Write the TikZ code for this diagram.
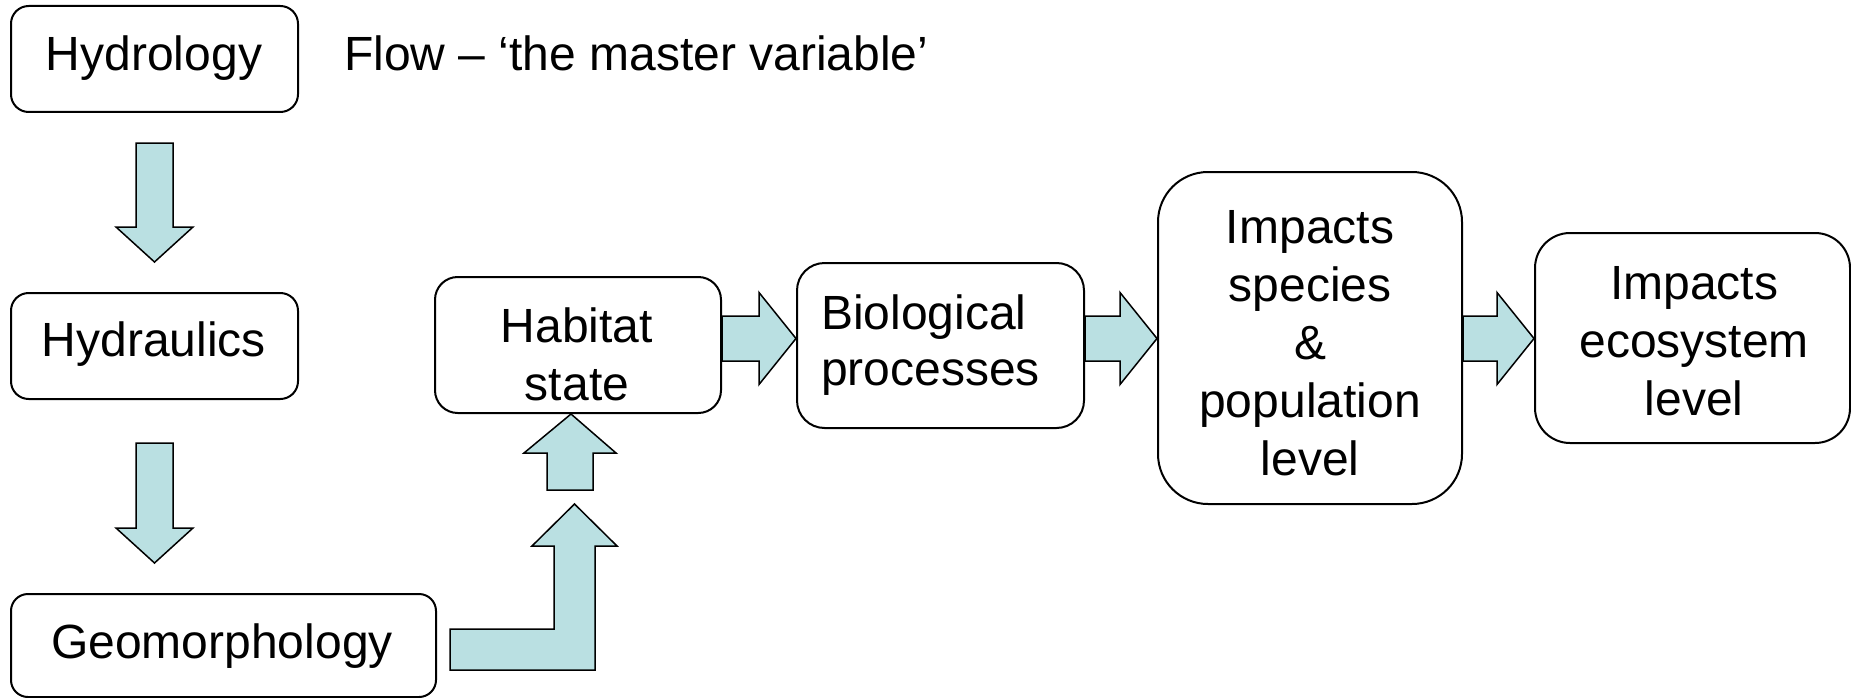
\documentclass[tikz,border=0pt]{standalone}
\usepackage{fontspec}
\setmainfont{Liberation Sans}
\usetikzlibrary{calc}
\definecolor{arrowfill}{RGB}{186,224,226}
\newcommand{\ls}{\rule[-29pt]{0pt}{58pt}}
% stacks of lines, baselines exactly 58pt apart
\newcommand{\cstack}[1]{\vbox{\baselineskip=58pt\lineskiplimit=-1000pt\lineskip=0pt\halign{\hfil##\hfil\cr#1\crcr}}}
\newcommand{\lstack}[1]{\vbox{\baselineskip=56pt\lineskiplimit=-1000pt\lineskip=0pt\halign{##\hfil\cr#1\crcr}}}
\begin{document}
\begin{tikzpicture}[x=1pt,y=-1pt,
  box/.style={draw=black, line width=2pt, fill=white, rounded corners=#1, inner sep=0pt},
  txt/.style={inner sep=0pt, font=\fontsize{48}{58}\selectfont},
  blk/.style={draw=black, line width=1.5pt, fill=arrowfill, line join=miter}]
\useasboundingbox (0,0) rectangle (1851,698);

% boxes
\node[box=17.7pt, minimum width=287pt, minimum height=106pt] (hydro) at (154.5,59) {};
\node[box=17.7pt, minimum width=287pt, minimum height=106pt] (hydrau) at (154.5,346) {};
\node[box=17pt, minimum width=425pt, minimum height=103pt] (geo) at (223.5,645.5) {};
\node[box=22.7pt, minimum width=286pt, minimum height=136pt] (hab) at (578,345) {};
\node[box=27.5pt, minimum width=287pt, minimum height=165pt] (bio) at (940.5,345.5) {};
\node[box=50pt, minimum width=304pt, minimum height=332pt] (spec) at (1310,338) {};
\node[box=35pt, minimum width=315pt, minimum height=210pt] (eco) at (1692.5,338) {};

% texts
\node[txt] (hydroT) at (154,68) {\ls Hydrology};
\node[txt, anchor=west] (flowT) at (344,68) {\ls Flow – ‘the master variable’};
\node[txt] (hydrauT) at (154,354) {\ls Hydraulics};
\node[txt] (geoT) at (222,656) {\ls Geomorphology};
\node[txt] (habT) at (577,369) {\cstack{\ls Habitat\cr\ls state}};
\node[txt, anchor=west] (bioT) at (821,355) {\lstack{\ls Biological\cr\ls processes}};
\node[txt] (specT) at (1310,357.5) {\cstack{\ls Impacts\cr\ls species\cr\ls \&\cr\ls population\cr\ls level}};
\node[txt] (ecoT) at (1694,355.5) {\cstack{\ls Impacts\cr\ls ecosystem\cr\ls level}};

% axis of the horizontal arrows
\coordinate (axis) at (0,338.5);

% vertical block arrows
\draw[blk] ($(hydro.south)+(-18.5,30)$) -- ($(hydro.south)+(18.5,30)$)
  -- ($(hydro.south)+(18.5,114)$) -- ($(hydro.south)+(38.5,114)$)
  -- ($(hydro.south |- hydrau.north)+(0,-30)$)
  -- ($(hydro.south)+(-38.5,114)$) -- ($(hydro.south)+(-18.5,114)$) -- cycle;
\draw[blk] ($(hydrau.south)+(-18.5,43)$) -- ($(hydrau.south)+(18.5,43)$)
  -- ($(hydrau.south)+(18.5,128)$) -- ($(hydrau.south)+(38.5,128)$)
  -- ($(hydrau.south |- geo.north)+(0,-30)$)
  -- ($(hydrau.south)+(-38.5,128)$) -- ($(hydrau.south)+(-18.5,128)$) -- cycle;

% bent arrow from Geomorphology
\draw[blk] ($(geo.east)+(13,-16.5)$) -- ($(geo.east)+(117,-16.5)$)
  -- ($(geo.east)+(117,-99.5)$) -- ($(geo.east)+(95,-99.5)$)
  -- ($(geo.east)+(137.5,-141.5)$)
  -- ($(geo.east)+(180,-99.5)$) -- ($(geo.east)+(158,-99.5)$)
  -- ($(geo.east)+(158,24.5)$) -- ($(geo.east)+(13,24.5)$) -- cycle;

% short up arrow into Habitat state
\draw[blk] ($(hab.south)+(-31,76)$) -- ($(hab.south)+(-31,39)$)
  -- ($(hab.south)+(-54,39)$) -- ($(hab.south)+(-7,0)$)
  -- ($(hab.south)+(38,39)$) -- ($(hab.south)+(15,39)$)
  -- ($(hab.south)+(15,76)$) -- cycle;

% horizontal block arrows
\foreach \a/\b in {hab/bio, bio/spec, spec/eco}{
  \draw[blk] ($(\a.east |- axis)+(0,-22.5)$) -- ($(\b.west |- axis)+(-37,-22.5)$)
    -- ($(\b.west |- axis)+(-37,-46)$) -- (\b.west |- axis)
    -- ($(\b.west |- axis)+(-37,46)$) -- ($(\b.west |- axis)+(-37,22.5)$)
    -- ($(\a.east |- axis)+(0,22.5)$) -- cycle;
}
\end{tikzpicture}
\end{document}
